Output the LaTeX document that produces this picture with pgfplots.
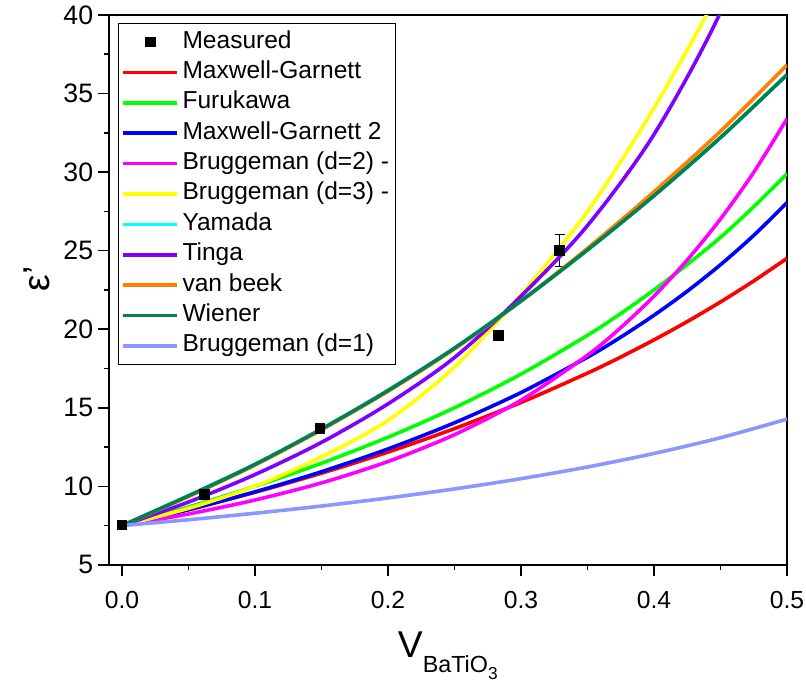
\documentclass[border=0pt]{standalone}
\usepackage{fontspec}
\setmainfont{Liberation Sans}
\usepackage{pgfplots}
\pgfplotsset{compat=1.18}
\definecolor{cMG}{RGB}{255,0,0}
\definecolor{cFur}{RGB}{0,255,0}
\definecolor{cMGb}{RGB}{0,0,255}
\definecolor{cBtwo}{RGB}{255,0,255}
\definecolor{cBthree}{RGB}{255,255,0}
\definecolor{cYam}{RGB}{0,255,255}
\definecolor{cTin}{RGB}{128,0,255}
\definecolor{cVB}{RGB}{255,128,0}
\definecolor{cWie}{RGB}{0,128,85}
\definecolor{cBone}{RGB}{140,150,255}
\begin{document}
\begin{tikzpicture}
\begin{axis}[
  scale only axis, width=509pt, height=412.5pt,
  xmin=-0.0102, xmax=0.5, ymin=5, ymax=40,
  axis line style={line width=1.5pt},
  xtick={0,0.1,0.2,0.3,0.4,0.5}, ytick={5,10,15,20,25,30,35,40},
  minor x tick num=1, minor y tick num=1,
  tick align=outside, xtick pos=bottom, ytick pos=left,
  major tick length=8pt, minor tick length=3.5pt,
  every tick/.style={black, line width=1.2pt},
  yticklabel style={font=\fontsize{20}{20}\selectfont},
  /pgf/number format/assume math mode=true,
  xticklabel style={font=\fontsize{18.5}{18.5}\selectfont, yshift=-8.5pt, /pgf/number format/.cd, fixed, fixed zerofill, precision=1},
  xlabel={\fontsize{28}{28}\selectfont V\raisebox{-11pt}{\fontsize{17.5}{17.5}\selectfont BaTiO\raisebox{-5.5pt}{\fontsize{13}{13}\selectfont 3}}},
  xlabel style={at={(axis description cs:0.5,0)}, anchor=north, inner sep=0pt, yshift=-50pt},
  ylabel={\fontsize{28}{28}\selectfont ε'},
  ylabel style={at={(axis description cs:-0.105,0.52)}, anchor=center, rotate=0, inner sep=0pt},
  legend style={at={(0.0147,0.9855)}, anchor=north west, draw=black, line width=0.75pt,
    font=\fontsize{18.4}{22}\selectfont, row sep=0pt, inner xsep=2pt, inner ysep=2.5pt,
    nodes={text height=13.5pt, text depth=4.5pt, inner ysep=2.4pt, inner xsep=3pt}},
  legend cell align=left,
  legend image code/.code={\draw[mark repeat=2,mark phase=2,#1] plot coordinates {(0pt,0pt) (20pt,0pt) (40pt,0pt)};},
  every axis plot/.append style={line width=2.7pt},
]
\addplot[only marks, mark=square*, mark size=3.6pt, black, line width=0.6pt,
  error bars/.cd, y dir=both, y explicit,
  error bar style={line width=0.75pt, black},
  error mark options={rotate=90, mark size=3.75pt, line width=0.75pt, black}]
  coordinates {(0,7.55) +- (0,0.3) (0.0617,9.5) +- (0,0.3) (0.1489,13.7) +- (0,0.3) (0.283,19.6) +- (0,0.3) (0.329,25.0) +- (0,1.0)};
\addlegendentry{Measured}
\addplot[cMG, smooth] coordinates {(0,7.5) (0.05,8.512) (0.1,9.620) (0.15,10.837) (0.2,12.181) (0.25,13.673) (0.3,15.337) (0.35,17.207) (0.375,18.231) (0.4,19.322) (0.425,20.487) (0.45,21.735) (0.475,23.073) (0.5,24.512)};
\addlegendentry{Maxwell-Garnett}
\addplot[cFur, smooth] coordinates {(0,7.5) (0.05,8.684) (0.1,10.0) (0.15,11.471) (0.2,13.125) (0.25,15.0) (0.3,17.143) (0.35,19.615) (0.375,21.0) (0.4,22.5) (0.425,24.12) (0.45,25.85) (0.475,27.8) (0.5,29.9)};
\addlegendentry{Furukawa}
\addplot[cMGb, smooth] coordinates {(0,7.5) (0.05,8.514) (0.1,9.650) (0.15,10.929) (0.2,12.381) (0.25,14.045) (0.3,15.969) (0.35,18.221) (0.375,19.496) (0.4,20.890) (0.425,22.420) (0.45,24.106) (0.475,25.974) (0.5,28.056)};
\addlegendentry{Maxwell-Garnett 2}
\addplot[cBtwo, smooth] coordinates {(0,7.5) (0.05,8.24) (0.1,9.13) (0.15,10.22) (0.2,11.58) (0.25,13.29) (0.3,15.48) (0.35,18.35) (0.375,20.10) (0.4,22.11) (0.425,24.41) (0.45,27.02) (0.475,29.99) (0.5,33.4)};
\addlegendentry{Bruggeman (d=2) -}
\addplot[cBthree, smooth] coordinates {(0,7.5) (0.05,8.60) (0.1,10.01) (0.15,11.87) (0.2,14.2) (0.25,17.6) (0.3,22.2) (0.35,27.5) (0.4,34.08) (0.45,41.66) (0.5,49.98)};
\addlegendentry{Bruggeman (d=3) -}
\addplot[cYam, smooth] coordinates {(0,7.5) (0.05,9.4) (0.1,11.4) (0.15,13.65) (0.2,16.1) (0.25,18.8) (0.3,21.8) (0.35,25.05) (0.4,28.5) (0.45,32.2) (0.5,36.2)};
\addlegendentry{Yamada}
\addplot[cTin, smooth] coordinates {(0,7.5) (0.05,9.00) (0.1,10.75) (0.15,12.80) (0.2,15.25) (0.25,18.2) (0.3,22.1) (0.35,26.6) (0.4,32.4) (0.45,40.18) (0.5,50.6)};
\addlegendentry{Tinga}
\addplot[cVB, smooth] coordinates {(0,7.5) (0.05,9.35) (0.1,11.35) (0.15,13.6) (0.2,16.05) (0.25,18.75) (0.3,21.8) (0.35,25.15) (0.4,28.75) (0.45,32.6) (0.5,36.82)};
\addlegendentry{van beek}
\addplot[cWie, smooth] coordinates {(0,7.5) (0.05,9.4) (0.1,11.4) (0.15,13.65) (0.2,16.1) (0.25,18.8) (0.3,21.8) (0.35,25.05) (0.4,28.5) (0.45,32.2) (0.5,36.2)};
\addlegendentry{Wiener}
\addplot[cBone, smooth] coordinates {(0,7.5) (0.05,7.874) (0.1,8.287) (0.15,8.745) (0.2,9.258) (0.25,9.834) (0.3,10.487) (0.35,11.232) (0.4,12.092) (0.45,13.093) (0.5,14.277)};
\addlegendentry{Bruggeman (d=1)}
\end{axis}
\pgfresetboundingbox
\path[use as bounding box] (-81.4pt,-91.5pt) rectangle (523.25pt,423.75pt);
\end{tikzpicture}
\end{document}
